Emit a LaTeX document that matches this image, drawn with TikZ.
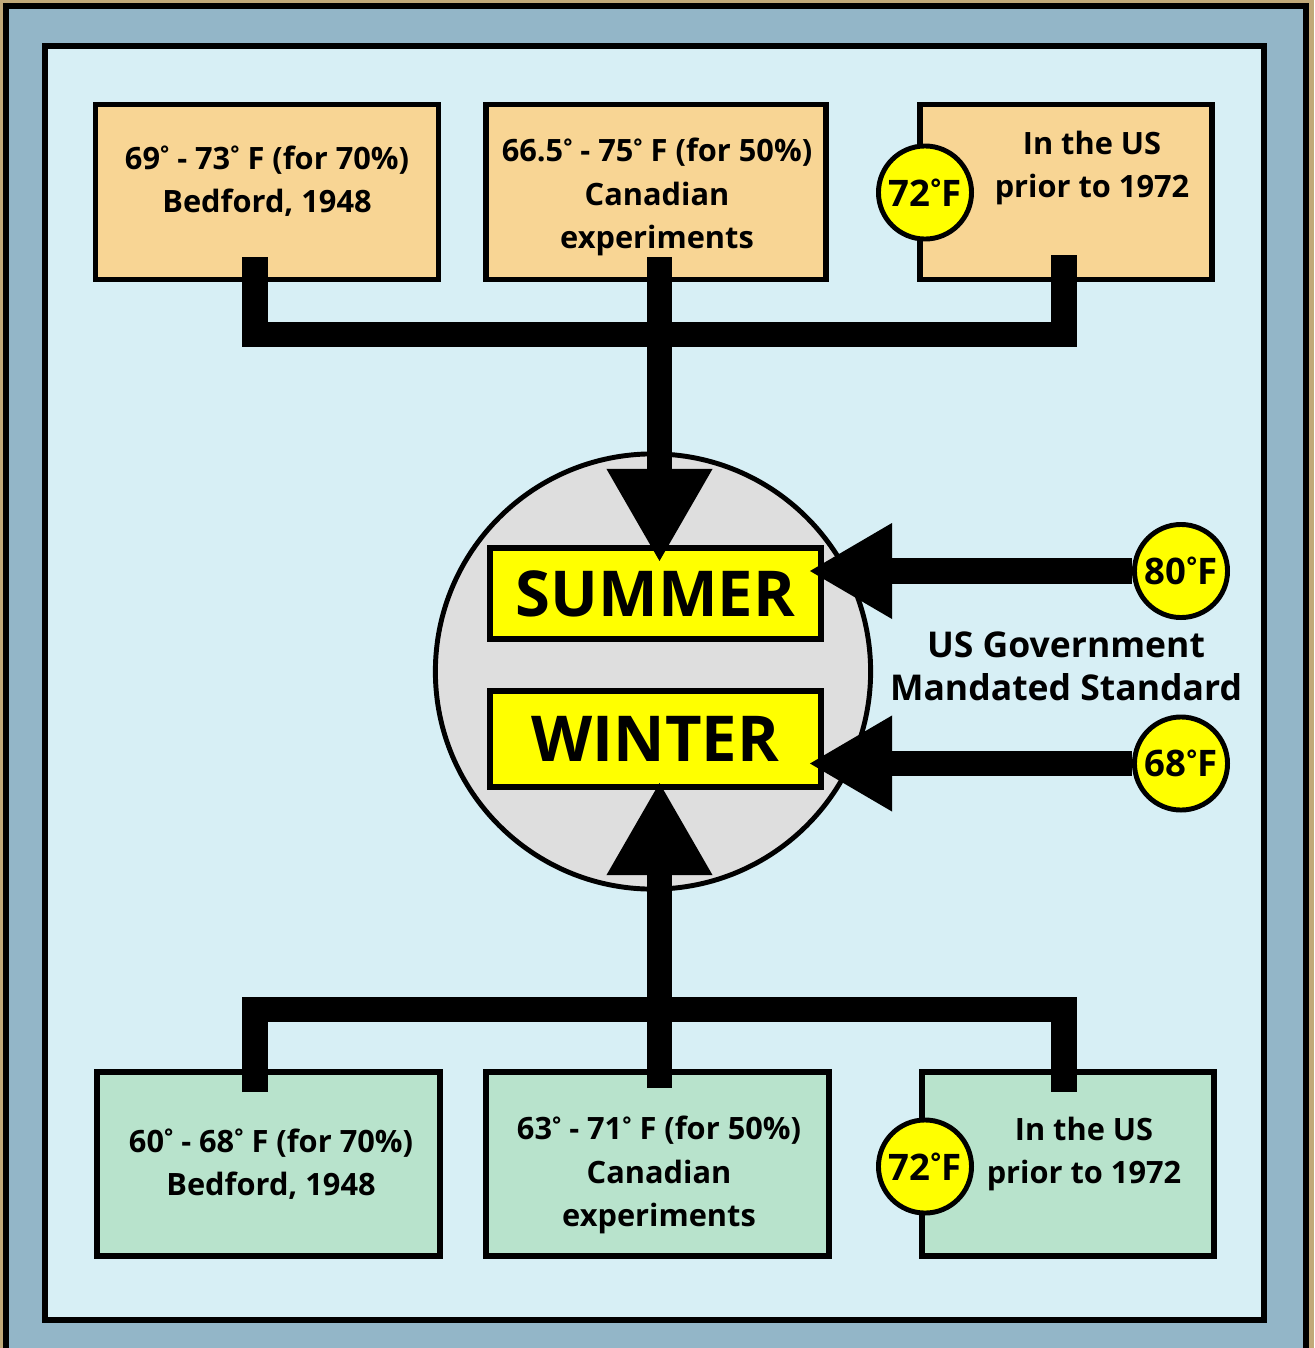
\documentclass[tikz,border=0pt]{standalone}
\usepackage{fontspec}
\setmainfont{Open Sans}
\usetikzlibrary{arrows.meta, positioning, calc}
\definecolor{frametan}{HTML}{C1A979}
\definecolor{framesteel}{HTML}{93B6C8}
\definecolor{panelblue}{HTML}{D7EFF5}
\definecolor{warmbox}{HTML}{F8D594}
\definecolor{coolbox}{HTML}{B8E3CC}
\definecolor{seasongray}{HTML}{DEDEDE}
\definecolor{tagyellow}{HTML}{FFFF00}
\newcommand{\dg}{\raisebox{0.24em}{\scalebox{0.7}{°}}}
\tikzset{
  srcbox/.style={rectangle, draw=black, fill=#1, line width=1.55pt,
                 minimum width=3.43cm, minimum height=1.75cm, inner sep=0pt},
  srcbox/.default=warmbox,
  srctxt/.style={align=center, inner sep=0pt,
                 font=\fontsize{8.75}{12.3}\selectfont\bfseries},
  degtag/.style={circle, draw=black, fill=tagyellow, line width=1.4pt,
                 minimum size=0.93cm, inner sep=0pt,
                 font=\fontsize{10.4}{12}\selectfont\bfseries},
  season/.style={rectangle, draw=black, fill=tagyellow, line width=1.7pt,
                 minimum width=3.31cm, inner sep=0pt,
                 font=\fontsize{18}{20}\selectfont\bfseries},
  bar/.style={line width=7.2pt, line join=miter},
  barhead/.style={bar, -{Triangle[length=0.92cm, width=1.06cm, line width=0pt]}},
  sidehead/.style={bar, -{Triangle[length=0.82cm, width=0.96cm, line width=0pt]}},
}

\begin{document}
\begin{tikzpicture}[x=0.01cm, y=-0.01cm]
  \useasboundingbox (0,0) rectangle (1314,1348);
  \clip (0,0) rectangle (1314,1348);

  % frame and panel
  \fill[frametan] (0,0) rectangle (1314,1348);
  \draw[fill=framesteel, line width=1.55pt] (6,6) rectangle (1306,1380);
  \draw[fill=panelblue, line width=1.6pt] (45,46) rectangle (1264,1320);

  % summer sources
  \node[srcbox] (sumBed) at (267,192) {};
  \node[srcbox, minimum width=3.40cm] (sumCan) at (656,192) {};
  \node[srcbox, minimum width=2.92cm] (sumUS) at (1066,192) {};
  \node[srctxt] (sumBedTxt) at (267,181) {69\dg{} - 73\dg{} F (for 70\%)\\Bedford, 1948};
  \node[srctxt] (sumCanTxt) at (657,197) {66.5\dg{} - 75\dg{} F (for 50\%)\\Canadian\\experiments};
  \node[srctxt] (sumUSTxt) at (1092,168) {In the US\\prior to 1972};
  \node[degtag] (sumUSTag) at (925,192.5) {72\dg F};

  % winter sources
  \node[srcbox=coolbox, minimum height=1.835cm] (winBed) at (268.5,1164) {};
  \node[srcbox=coolbox, minimum height=1.835cm] (winCan) at (657.5,1164) {};
  \node[srcbox=coolbox, minimum height=1.835cm, minimum width=2.92cm] (winUS) at (1068,1164) {};
  \node[srctxt] (winBedTxt) at (271,1164) {60\dg{} - 68\dg{} F (for 70\%)\\Bedford, 1948};
  \node[srctxt] (winCanTxt) at (659,1175) {63\dg{} - 71\dg{} F (for 50\%)\\Canadian\\experiments};
  \node[srctxt] (winUSTxt) at (1084,1154) {In the US\\prior to 1972};
  \node[degtag] (winUSTag) at (925,1166.5) {72\dg F};

  % seasons
  \node[circle, draw=black, fill=seasongray, line width=1.4pt, minimum size=4.35cm,
        inner sep=0pt] (seasons) at (653,671.5) {};
  \node[season, minimum height=0.91cm] (summer) at (655.4,593.5) {SUMMER};
  \node[season, minimum height=0.96cm] (winter) at (655.4,739) {WINTER};

  % summer connectors
  \coordinate (sumBedTop) at (255,257);
  \coordinate (sumCanTop) at (659.5,257);
  \coordinate (sumUSTop) at (1064,255);
  \coordinate (sumJoin) at (659.5,334.7);
  \draw[bar] (sumBedTop) |- (sumJoin) -| (sumUSTop);
  \draw[barhead] (sumCanTop) -- ($(sumCanTop |- summer.north)+(0,16)$);

  % winter connectors
  \coordinate (winBedEnd) at (255,1092);
  \coordinate (winCanEnd) at (659.5,1088);
  \coordinate (winUSEnd) at (1064,1092);
  \coordinate (winJoin) at (659.5,1009.3);
  \draw[bar] (winBedEnd) |- (winJoin) -| (winUSEnd);
  \draw[barhead] (winCanEnd) -- ($(winCanEnd |- winter.south)+(0,-7)$);

  % mandated standard
  \node[degtag] (hot80) at (1181,571) {80\dg F};
  \node[degtag] (cold68) at (1181,763.5) {68\dg F};
  \draw[sidehead] (hot80.west) -- ($(hot80 -| summer.east)+(-14,0)$);
  \draw[sidehead] (cold68.west) -- ($(cold68 -| winter.east)+(-14,0)$);
  \node[align=center, inner sep=0pt, font=\fontsize{10.1}{12.3}\selectfont\bfseries]
    (mandate) at (1066,666) {US Government\\Mandated Standard};
\end{tikzpicture}
\end{document}
